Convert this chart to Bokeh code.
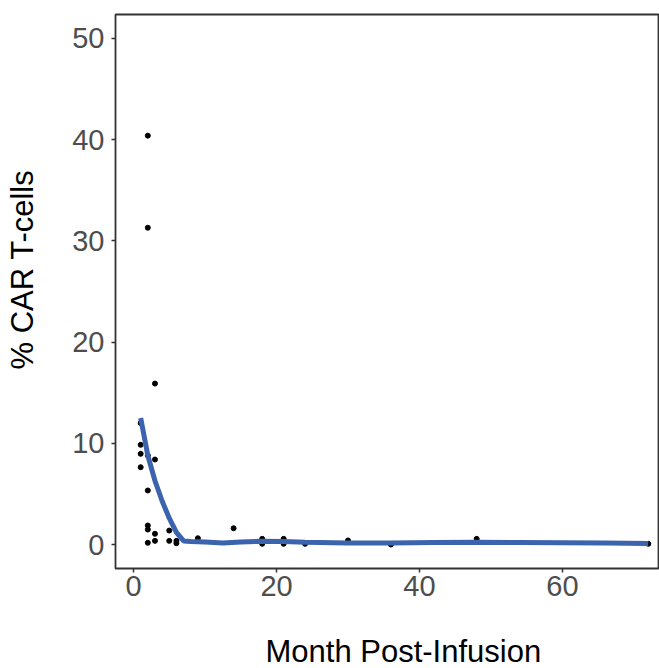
from bokeh.plotting import figure
from bokeh.models import Range1d, FixedTicker, Title
from bokeh.embed import file_html
from bokeh.resources import INLINE

# Observed points: month post-infusion vs % CAR T-cells
month = [1, 1, 1, 1, 2, 2, 2, 2, 2, 2, 2, 3, 3, 3, 3, 5, 5, 6, 6, 9,
         14, 18, 18, 21, 21, 24, 30, 36, 48, 72]
pct_car = [12.0, 9.85, 8.96, 7.64, 40.4, 31.3, 8.8, 5.34, 1.88, 1.48, 0.17,
           15.9, 8.4, 1.06, 0.36, 1.38, 0.36, 0.36, 0.13, 0.62,
           1.61, 0.56, 0.07, 0.56, 0.07, 0.07, 0.4, 0.0, 0.56, 0.07]

# Smoothed trend line
fit_month = [1, 2, 3, 4, 5, 6, 7, 8, 10, 12.5, 15, 18, 21, 24, 30, 36, 42, 48, 54, 60, 66, 72]
fit_pct = [12.5, 8.8, 6.3, 4.3, 2.6, 1.2, 0.35, 0.3, 0.25, 0.15, 0.25, 0.33, 0.3,
           0.22, 0.15, 0.15, 0.2, 0.22, 0.2, 0.18, 0.15, 0.1]

x_ticks = [0, 20, 40, 60]
y_ticks = [0, 10, 20, 30, 40, 50]
x_title = "Month Post-Infusion"
y_title = "% CAR T-cells"

FONT = "Liberation Sans"

p = figure(width=659, height=668, output_backend="svg", toolbar_location=None,
           x_range=Range1d(-2.52, 73.57), y_range=Range1d(-2.37, 52.37),
           min_border_left=115, min_border_top=14, min_border_right=0,
           min_border_bottom=100)

p.background_fill_color = "white"
p.border_fill_color = "white"
p.xgrid.visible = False
p.ygrid.visible = False
p.outline_line_color = "#333333"
p.outline_line_width = 1.8

for ax, ticks in ((p.xaxis, x_ticks), (p.yaxis, y_ticks)):
    ax.ticker = FixedTicker(ticks=ticks)
    ax.axis_line_color = None
    ax.major_tick_line_color = "#333333"
    ax.major_tick_line_width = 1.5
    ax.major_tick_in = 0
    ax.major_tick_out = 4
    ax.minor_tick_line_color = None
    ax.major_label_text_font = FONT
    ax.major_label_text_font_size = "29px"
    ax.major_label_text_color = "#4D4D4D"
    # blank spacer label: only reserves room between tick labels and title
    ax.axis_label = " "
    ax.axis_label_text_font_size = "1px"

p.xaxis.major_label_standoff = 3
p.yaxis.major_label_standoff = 7
p.xaxis.axis_label_standoff = 29
p.yaxis.axis_label_standoff = 26

p.scatter(month, pct_car, size=5, color="black")
p.line(fit_month, fit_pct, line_width=5, color="#3C64AE")

# Axis titles as side titles so they can be shifted along the frame
p.add_layout(Title(text=x_title, align="left", offset=150, standoff=0,
                   text_font=FONT, text_font_size="31px", text_font_style="normal",
                   text_color="black"), "below")
p.add_layout(Title(text=y_title, align="left", offset=199, standoff=0,
                   text_font=FONT, text_font_size="31px", text_font_style="normal",
                   text_color="black"), "left")

open("out.html", "w").write(file_html(p, INLINE))
